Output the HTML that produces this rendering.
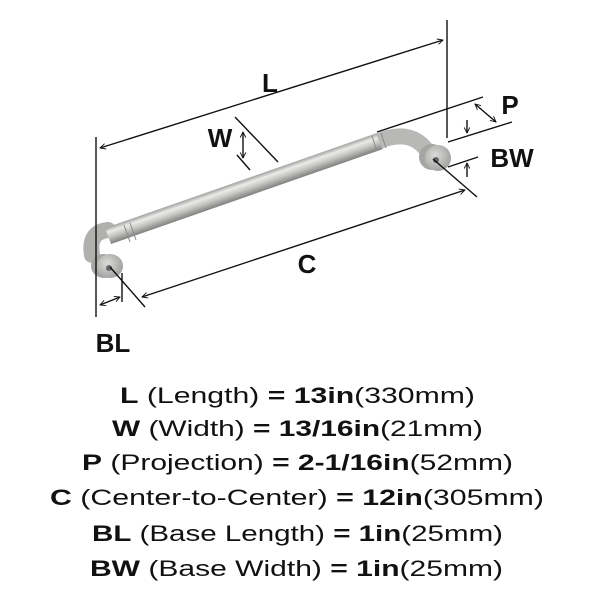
<!DOCTYPE html>
<html><head><meta charset="utf-8"><style>
html,body{margin:0;padding:0;background:#fff;}
svg{display:block;}
text{font-family:"Liberation Sans",sans-serif;fill:#111;}
</style></head><body>
<svg width="600" height="600" viewBox="0 0 600 600">
<defs>
<linearGradient id="bar" gradientUnits="userSpaceOnUse" x1="241.2" y1="180" x2="246.8" y2="196">
<stop offset="0" stop-color="#9a9a98"/><stop offset="0.3" stop-color="#ebebe9"/><stop offset="0.6" stop-color="#c6c6c4"/><stop offset="1" stop-color="#858583"/>
</linearGradient>
<radialGradient id="knob" cx="0.4" cy="0.4" r="0.7"><stop offset="0" stop-color="#dcdcda"/><stop offset="1" stop-color="#9a9a98"/></radialGradient>
<marker id="ah" viewBox="0 0 10 10" refX="9" refY="5" markerWidth="7" markerHeight="7" orient="auto-start-reverse" markerUnits="userSpaceOnUse"><path d="M1,1 L9,5 L1,9" fill="none" stroke="#111" stroke-width="1.3"/></marker>
</defs>
<g>
<path d="M92,255 Q88,232 108,230" stroke="#b0b0ae" stroke-width="16" fill="none" stroke-linecap="round"/>
<polygon points="105,228 377,133 383,149 111,244" fill="url(#bar)"/>
<path d="M379,141 Q412,128 428,152" stroke="#b8b8b6" stroke-width="16" fill="none"/>
<line x1="124" y1="225" x2="130" y2="242" stroke="#8a8a88" stroke-width="1"/>
<line x1="130" y1="223" x2="136" y2="240" stroke="#8a8a88" stroke-width="1"/>
<line x1="372" y1="136" x2="377" y2="151" stroke="#8a8a88" stroke-width="1"/>
<line x1="381" y1="133" x2="386" y2="148" stroke="#8a8a88" stroke-width="1"/>
<ellipse cx="104" cy="266" rx="13" ry="12" fill="#a5a5a3"/>
<ellipse cx="110" cy="266" rx="13" ry="12" fill="url(#knob)"/>
<ellipse cx="109" cy="268" rx="3" ry="3" fill="#666"/>
<ellipse cx="432" cy="157" rx="13" ry="13" fill="#a5a5a3"/>
<ellipse cx="438" cy="158" rx="13" ry="13" fill="url(#knob)"/>
<ellipse cx="436" cy="160" rx="3" ry="3" fill="#666"/>
</g>
<g stroke="#111" stroke-width="1.4" fill="none">
<line x1="447" y1="20" x2="447" y2="138"/>
<line x1="96" y1="137" x2="96" y2="317"/>
<line x1="100" y1="148" x2="443" y2="40" marker-start="url(#ah)" marker-end="url(#ah)"/>
<line x1="235" y1="117" x2="278" y2="162"/>
<line x1="237" y1="155" x2="250" y2="170"/>
<line x1="243" y1="132" x2="243" y2="158" marker-start="url(#ah)" marker-end="url(#ah)"/>
<line x1="377" y1="132" x2="483" y2="97"/>
<line x1="448" y1="142" x2="512" y2="122"/>
<line x1="475" y1="104" x2="496" y2="122" marker-start="url(#ah)" marker-end="url(#ah)"/>
<line x1="467" y1="120" x2="467" y2="133" marker-end="url(#ah)"/>
<line x1="448" y1="167" x2="478" y2="157"/>
<line x1="467" y1="177" x2="467" y2="163" marker-end="url(#ah)"/>
<line x1="433" y1="159" x2="477" y2="197"/>
<line x1="142" y1="297" x2="465" y2="190" marker-start="url(#ah)" marker-end="url(#ah)"/>
<line x1="110" y1="267" x2="145" y2="307"/>
<line x1="122" y1="273" x2="122" y2="302"/>
<line x1="100" y1="305" x2="120" y2="297" marker-start="url(#ah)" marker-end="url(#ah)"/>
</g>
<g font-size="26" font-weight="bold" text-anchor="middle">
<text x="270" y="92">L</text>
<text x="220" y="147">W</text>
<text x="510" y="114">P</text>
<text x="512" y="167">BW</text>
<text x="307" y="273">C</text>
<text x="113" y="352">BL</text>
</g>
<g font-size="22" text-anchor="middle">
<text x="297.5" y="403" textLength="355" lengthAdjust="spacingAndGlyphs"><tspan font-weight="bold">L</tspan> (Length) <tspan font-weight="bold">= 13in</tspan>(330mm)</text>
<text x="297.5" y="436" textLength="371" lengthAdjust="spacingAndGlyphs"><tspan font-weight="bold">W</tspan> (Width) <tspan font-weight="bold">= 13/16in</tspan>(21mm)</text>
<text x="297.5" y="470" textLength="431" lengthAdjust="spacingAndGlyphs"><tspan font-weight="bold">P</tspan> (Projection) <tspan font-weight="bold">= 2-1/16in</tspan>(52mm)</text>
<text x="297" y="505" textLength="494" lengthAdjust="spacingAndGlyphs"><tspan font-weight="bold">C</tspan> (Center-to-Center) <tspan font-weight="bold">= 12in</tspan>(305mm)</text>
<text x="297.5" y="541" textLength="411" lengthAdjust="spacingAndGlyphs"><tspan font-weight="bold">BL</tspan> (Base Length) <tspan font-weight="bold">= 1in</tspan>(25mm)</text>
<text x="296.5" y="576" textLength="413" lengthAdjust="spacingAndGlyphs"><tspan font-weight="bold">BW</tspan> (Base Width) <tspan font-weight="bold">= 1in</tspan>(25mm)</text>
</g>
</svg>
</body></html>
